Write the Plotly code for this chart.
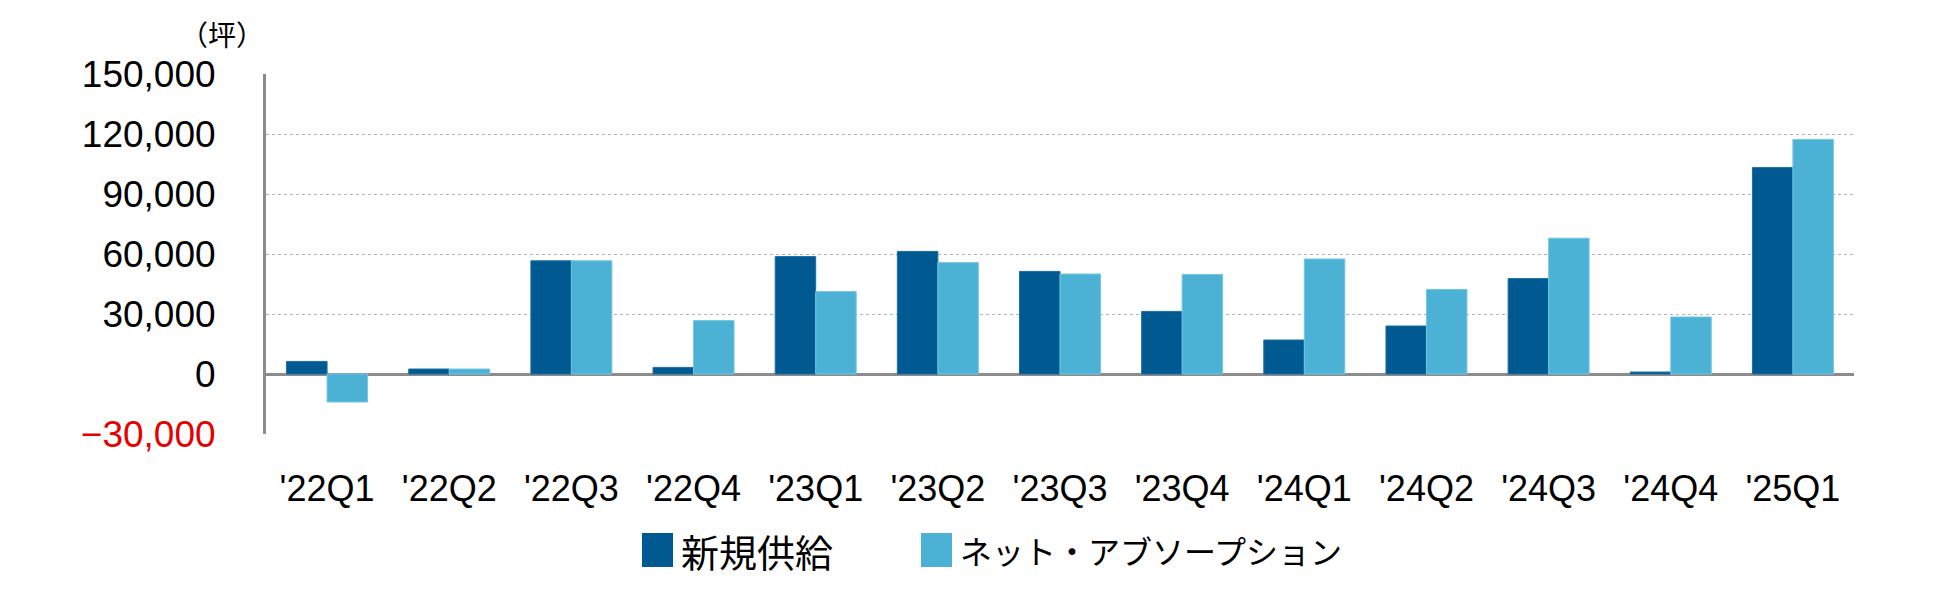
import plotly.graph_objects as go

categories = ["'22Q1", "'22Q2", "'22Q3", "'22Q4", "'23Q1", "'23Q2", "'23Q3",
              "'23Q4", "'24Q1", "'24Q2", "'24Q3", "'24Q4", "'25Q1"]
new_supply = [6300, 2500, 56600, 3300, 58700, 61300, 51300, 31300, 17000, 24000, 47700, 1000, 103200]
net_absorption = [-14000, 2500, 56600, 26700, 41200, 55700, 50000, 49700, 57500, 42300, 67900, 28500, 117300]
series_names = ["新規供給", "ネット・アブソープション"]
y_tick_vals = [-30000, 0, 30000, 60000, 90000, 120000, 150000]
y_tick_text = ["<span style='color:#E60000'>−30,000</span>", "0", "30,000", "60,000",
               "90,000", "120,000", "150,000"]
unit_label = "（坪）"

DARK = "#005A91"
LIGHT = "#4BB2D5"

W, H = 1950, 590
L, R, T, B = 258, 104, 66, 164
PW, PH = W - L - R, H - T - B


def px(x):
    return (x - L) / PW


def py(y):
    return (H - B - y) / PH


fig = go.Figure()
fig.add_trace(go.Bar(x=categories, y=new_supply, name=series_names[0],
                     marker=dict(color=DARK, line=dict(color="#1C6EA3", width=1)),
                     showlegend=False))
fig.add_trace(go.Bar(x=categories, y=net_absorption, name=series_names[1],
                     marker=dict(color=LIGHT, line=dict(color="#74C6E2", width=1)),
                     showlegend=False))

JP = "Noto Sans CJK JP"
NUM = "Liberation Sans, Arial, sans-serif"

fig.update_layout(
    width=W, height=H,
    margin=dict(l=L, r=R, t=T, b=B, pad=0),
    paper_bgcolor="white", plot_bgcolor="white",
    barmode="group", bargap=0.337, bargroupgap=0,
    xaxis=dict(
        showline=False, showgrid=False, zeroline=False,
        ticks="outside", ticklen=23, tickcolor="rgba(0,0,0,0)",
        tickfont=dict(family=NUM, size=36, color="black"),
    ),
    yaxis=dict(
        range=[-30000, 150000],
        tickvals=y_tick_vals, ticktext=y_tick_text,
        showline=True, linecolor="#8C8C8C", linewidth=3,
        showgrid=True, gridcolor="#B4B4B4", gridwidth=1, griddash="dot",
        zeroline=True, zerolinecolor="#8C8C8C", zerolinewidth=3,
        ticks="outside", ticklen=40, tickcolor="rgba(0,0,0,0)",
        tickfont=dict(family=NUM, size=37, color="black"),
    ),
    showlegend=False,
)

fig.add_annotation(text=unit_label, xref="paper", yref="paper",
                   x=px(214), y=py(26), xanchor="center", yanchor="middle",
                   showarrow=False, font=dict(family=JP, size=28, color="black"))

legend_items = [
    (series_names[0], DARK, 634, 665, 671, 38),
    (series_names[1], LIGHT, 913, 944, 950, 32),
]
for name, color, x0, x1, tx, fs in legend_items:
    fig.add_shape(type="rect", xref="paper", yref="paper",
                  x0=px(x0), x1=px(x1), y0=py(559), y1=py(525),
                  fillcolor=color, line=dict(width=0))
    fig.add_annotation(text=name, xref="paper", yref="paper",
                       x=px(tx), y=py(542), xanchor="left", yanchor="middle",
                       showarrow=False, font=dict(family=JP, size=fs, color="black"))

fig.write_html("out.html")
